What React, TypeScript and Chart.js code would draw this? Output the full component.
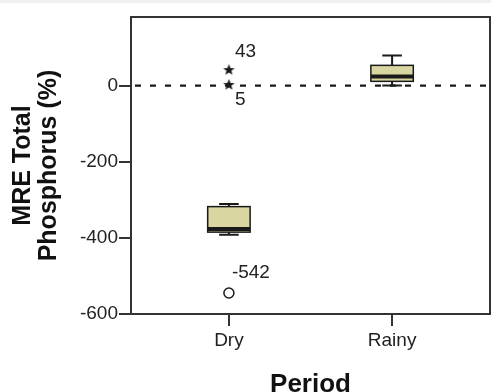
import { useEffect, useRef } from 'react';
import { Chart, registerables } from 'chart.js';
Chart.register(...registerables);

const categories = ['Dry', 'Rainy'];
const whiskerLow = [-392, 0];
const quartile1 = [-385, 11];
const medians = [-377, 24];
const quartile3 = [-318, 53];
const whiskerHigh = [-311, 79];
const extremeCategory = [0, 0];
const extremeValues = [42, 3];
const extremeLabels = ['43', '5'];
const outlierCategory = [0];
const outlierValues = [-545];
const outlierLabels = ['-542'];
const yTickValues = [0, -200, -400, -600];
const referenceValue = 0;

const FONT = '"Liberation Sans", Arial, Helvetica, sans-serif';
const BOX_HALF = 0.13;
const CAP_HALF = 0.06;
const INK = '#1a1a1a';

function makeStar(): HTMLCanvasElement {
  const c = document.createElement('canvas');
  c.width = 13;
  c.height = 13;
  const g = c.getContext('2d')!;
  g.fillStyle = INK;
  g.beginPath();
  for (let i = 0; i < 10; i++) {
    const r = i % 2 === 0 ? 6 : 2.6;
    const a = -Math.PI / 2 + (i * Math.PI) / 5;
    const px = 6.5 + r * Math.cos(a);
    const py = 7 + r * Math.sin(a);
    if (i === 0) g.moveTo(px, py);
    else g.lineTo(px, py);
  }
  g.closePath();
  g.fill();
  return c;
}

const boxPlugin = {
  id: 'boxes',
  beforeDraw(chart: any) {
    const { ctx, width, height } = chart;
    ctx.save();
    ctx.fillStyle = '#ffffff';
    ctx.fillRect(0, 0, width, height);
    ctx.fillStyle = '#f0f0f0';
    ctx.fillRect(0, 0, width, 3);
    ctx.restore();
  },
  beforeDatasetsDraw(chart: any) {
    const { ctx, chartArea, scales } = chart;
    const x = scales.x;
    const y = scales.y;
    ctx.save();
    const y0 = y.getPixelForValue(referenceValue);
    ctx.setLineDash([6, 9]);
    ctx.strokeStyle = INK;
    ctx.lineWidth = 2.2;
    ctx.beginPath();
    ctx.moveTo(chartArea.left + 4, y0);
    ctx.lineTo(chartArea.right, y0);
    ctx.stroke();
    ctx.setLineDash([]);
    categories.forEach((_, i) => {
      const v = i + 1;
      const cx = x.getPixelForValue(v);
      const l = x.getPixelForValue(v - BOX_HALF);
      const r = x.getPixelForValue(v + BOX_HALF);
      const cl = x.getPixelForValue(v - CAP_HALF);
      const cr = x.getPixelForValue(v + CAP_HALF);
      const yLo = y.getPixelForValue(whiskerLow[i]);
      const yQ1 = y.getPixelForValue(quartile1[i]);
      const yMed = y.getPixelForValue(medians[i]);
      const yQ3 = y.getPixelForValue(quartile3[i]);
      const yHi = y.getPixelForValue(whiskerHigh[i]);
      ctx.strokeStyle = INK;
      ctx.lineWidth = 2;
      ctx.beginPath();
      ctx.moveTo(cx, yHi);
      ctx.lineTo(cx, yQ3);
      ctx.moveTo(cx, yQ1);
      ctx.lineTo(cx, yLo);
      ctx.moveTo(cl, yHi);
      ctx.lineTo(cr, yHi);
      ctx.moveTo(cl, yLo);
      ctx.lineTo(cr, yLo);
      ctx.stroke();
      ctx.fillStyle = '#d9d6a2';
      ctx.fillRect(l, yQ3, r - l, yQ1 - yQ3);
      ctx.lineWidth = 1.5;
      ctx.strokeRect(l, yQ3, r - l, yQ1 - yQ3);
      ctx.lineWidth = 4;
      ctx.beginPath();
      ctx.moveTo(l, yMed);
      ctx.lineTo(r, yMed);
      ctx.stroke();
    });
    ctx.restore();
  },
  afterDatasetsDraw(chart: any) {
    const { ctx, chartArea, scales } = chart;
    const x = scales.x;
    const y = scales.y;
    ctx.save();
    ctx.font = `19px ${FONT}`;
    ctx.fillStyle = '#222';
    ctx.textAlign = 'left';
    ctx.textBaseline = 'middle';
    const offs = [
      [6, -18],
      [6, 15],
    ];
    extremeValues.forEach((val, i) => {
      const px = x.getPixelForValue(extremeCategory[i] + 1);
      const py = y.getPixelForValue(val);
      ctx.fillText(extremeLabels[i], px + offs[i][0], py + offs[i][1]);
    });
    outlierValues.forEach((val, i) => {
      const px = x.getPixelForValue(outlierCategory[i] + 1);
      const py = y.getPixelForValue(val);
      ctx.fillText(outlierLabels[i], px + 3, py - 20);
    });
    ctx.strokeStyle = '#333';
    ctx.lineWidth = 2;
    ctx.strokeRect(chartArea.left, chartArea.top, chartArea.right - chartArea.left, chartArea.bottom - chartArea.top);
    ctx.restore();
  },
};

export default function App() {
  const ref = useRef<HTMLCanvasElement>(null);
  useEffect(() => {
    if (!ref.current) return;
    const star = makeStar();
    const chart = new Chart(ref.current, {
      type: 'scatter',
      data: {
        datasets: [
          {
            label: 'Extremes',
            data: extremeValues.map((v, i) => ({ x: extremeCategory[i] + 1, y: v })),
            pointStyle: star as any,
            pointRadius: 6,
          },
          {
            label: 'Outliers',
            data: outlierValues.map((v, i) => ({ x: outlierCategory[i] + 1, y: v })),
            pointStyle: 'circle',
            pointRadius: 5,
            borderColor: INK,
            borderWidth: 1.5,
            backgroundColor: 'rgba(0,0,0,0)',
          },
        ],
      },
      options: {
        animation: false,
        responsive: false,
        layout: { autoPadding: false, padding: { left: 0, right: 1, top: 17, bottom: 0 } },
        plugins: { legend: { display: false }, tooltip: { enabled: false } },
        scales: {
          x: {
            type: 'linear',
            min: 0.4,
            max: 2.6,
            afterBuildTicks: (s: any) => {
              s.ticks = categories.map((_, i) => ({ value: i + 1 }));
            },
            afterFit: (s: any) => {
              s.height = 78;
            },
            ticks: {
              callback: (v: any) => categories[Math.round(Number(v)) - 1] ?? '',
              font: { family: FONT, size: 19 },
              color: '#222',
              padding: 3,
              autoSkip: false,
              maxRotation: 0,
            },
            grid: { drawOnChartArea: false, tickLength: 12, color: '#333', lineWidth: 2 },
            border: { display: false },
            title: {
              display: true,
              text: 'Period',
              color: '#111',
              font: { family: FONT, size: 26, weight: 'bold', lineHeight: 1 },
              padding: { top: 0, bottom: -6 },
            },
          },
          y: {
            type: 'linear',
            min: -600,
            max: 180,
            afterBuildTicks: (s: any) => {
              s.ticks = yTickValues.map((v) => ({ value: v }));
            },
            afterFit: (s: any) => {
              s.width = 131;
            },
            ticks: {
              callback: (v: any) => String(v),
              font: { family: FONT, size: 19 },
              color: '#222',
              padding: 1,
              autoSkip: false,
            },
            grid: { drawOnChartArea: false, tickLength: 12, color: '#333', lineWidth: 2 },
            border: { display: false },
            title: {
              display: true,
              text: ['MRE Total', 'Phosphorus (%)'],
              color: '#111',
              font: { family: FONT, size: 25, weight: 'bold', lineHeight: 1.04 },
              padding: { top: 10, bottom: 0 },
            },
          },
        },
      },
      plugins: [boxPlugin],
    } as any);
    return () => chart.destroy();
  }, []);
  return (
    <div style={{ position: 'fixed', left: 0, top: 0, width: 491, height: 392 }}>
      <canvas ref={ref} width={491} height={392} />
    </div>
  );
}
